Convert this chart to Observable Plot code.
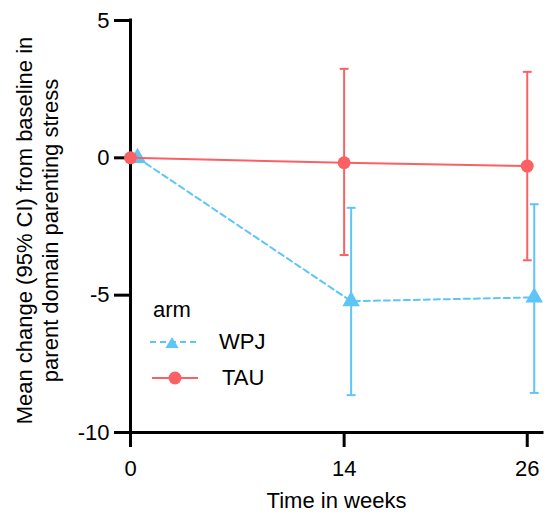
<!DOCTYPE html>
<html>
<head>
<meta charset="utf-8">
<script src="https://cdn.jsdelivr.net/npm/d3@7"></script>
<script src="https://cdn.jsdelivr.net/npm/@observablehq/plot@0.6"></script>
<style>
  html, body { margin: 0; padding: 0; background: #fff; }
  #wrap { position: relative; width: 545px; height: 513px; font-family: "Liberation Sans", Arial, sans-serif; }
  #legend { position: absolute; left: 150px; top: 296px; font-size: 22px; color: #000; }
  #legend .row { display: flex; align-items: center; height: 36px; }
  #legend .title { height: 28px; line-height: 28px; margin-left: 3px; }
</style>
</head>
<body>
<div id="wrap">
  <div id="chart"></div>
  <div id="legend"></div>
</div>
<script>
// ---- data ----
const weeks = [0, 14, 26];
const arms = ["WPJ", "TAU"];
const wpjMean = [0, -5.22, -5.08];
const wpjLow  = [0, -8.64, -8.56];
const wpjHigh = [0, -1.82, -1.69];
const tauMean = [0, -0.18, -0.30];
const tauLow  = [0, -3.54, -3.73];
const tauHigh = [0, 3.24, 3.13];
const yTicks = [5, 0, -5, -10];
const xTicks = [0, 14, 26];
const colors = {WPJ: "#5EC6F7", TAU: "#FA6165"};

const wpj = weeks.map((w, i) => ({week: w, mean: wpjMean[i], lo: wpjLow[i], hi: wpjHigh[i]}));
const tau = weeks.map((w, i) => ({week: w, mean: tauMean[i], lo: tauLow[i], hi: tauHigh[i]}));
const wpjCI = wpj.filter(d => d.lo !== d.hi);
const tauCI = tau.filter(d => d.lo !== d.hi);

// horizontal cap symbol for error bars
const cap = {draw(ctx, size) { const w = Math.sqrt(size) / 2; ctx.moveTo(-w, 0); ctx.lineTo(w, 0); }};

const font = "Liberation Sans, Arial, sans-serif";
const fs = 22;
const dodge = 7;

const chart = Plot.plot({
  width: 545,
  height: 513,
  marginLeft: 130,
  marginRight: 3,
  marginTop: 20,
  marginBottom: 81,
  style: {fontFamily: font, fontSize: fs + "px", background: "#fff", overflow: "visible"},
  x: {domain: [0, 27], axis: null},
  y: {domain: [-10, 5], axis: null},
  marks: [
    // axes (ticks + lines)
    Plot.axisY({ticks: yTicks, tickSize: 16, strokeWidth: 3, tickFormat: () => "", label: null}),
    Plot.axisX({ticks: xTicks, tickSize: 15, strokeWidth: 3, tickFormat: () => "", label: null}),
    Plot.ruleX([0], {stroke: "#000", strokeWidth: 3, strokeLinecap: "square"}),
    Plot.ruleY([-10], {stroke: "#000", strokeWidth: 3, strokeLinecap: "square"}),
    Plot.text(yTicks, {y: d => d, text: d => String(d), frameAnchor: "left", textAnchor: "end", dx: -21, fontSize: fs, fill: "#000"}),
    Plot.text(xTicks, {x: d => d, text: d => String(d), frameAnchor: "bottom", lineAnchor: "middle", dy: 36, fontSize: fs, fill: "#000"}),
    // WPJ
    Plot.ruleX(wpjCI, {x: "week", y1: "lo", y2: "hi", stroke: colors.WPJ, strokeWidth: 2, dx: dodge}),
    Plot.dot(wpjCI, {x: "week", y: "lo", symbol: cap, r: 5, stroke: colors.WPJ, strokeWidth: 2, dx: dodge}),
    Plot.dot(wpjCI, {x: "week", y: "hi", symbol: cap, r: 5, stroke: colors.WPJ, strokeWidth: 2, dx: dodge}),
    Plot.line(wpj, {x: "week", y: "mean", stroke: colors.WPJ, strokeWidth: 2, strokeDasharray: "6,4", dx: dodge}),
    Plot.dot(wpj, {x: "week", y: "mean", symbol: "triangle", r: 6.5, fill: colors.WPJ, stroke: null, dx: dodge}),
    // TAU
    Plot.ruleX(tauCI, {x: "week", y1: "lo", y2: "hi", stroke: colors.TAU, strokeWidth: 2}),
    Plot.dot(tauCI, {x: "week", y: "lo", symbol: cap, r: 5, stroke: colors.TAU, strokeWidth: 2}),
    Plot.dot(tauCI, {x: "week", y: "hi", symbol: cap, r: 5, stroke: colors.TAU, strokeWidth: 2}),
    Plot.line(tau, {x: "week", y: "mean", stroke: colors.TAU, strokeWidth: 2}),
    Plot.dot(tau, {x: "week", y: "mean", r: 6.5, fill: colors.TAU, stroke: null}),
    // axis titles
    Plot.text(["Mean change (95% CI) from baseline in\nparent domain parenting stress"], {
      frameAnchor: "left", textAnchor: "middle", rotate: -90, dx: -94, dy: 4, lineHeight: 1.2, fontSize: fs, fill: "#000"
    }),
    Plot.text(["Time in weeks"], {frameAnchor: "bottom", dy: 68, fontSize: fs, fill: "#000", lineAnchor: "middle"})
  ]
});
document.getElementById("chart").appendChild(chart);

// legend (HTML overlay)
const legend = document.getElementById("legend");
legend.innerHTML = `<div class="title">arm</div>` + arms.map(a => {
  const c = colors[a];
  const isW = a === "WPJ";
  const sym = isW
    ? `<path d="M22,7 L28.5,18 L15.5,18 Z" fill="${c}"/>`
    : `<circle cx="23" cy="12" r="6.5" fill="${c}"/>`;
  return `<div class="row">
    <svg width="64" height="24" style="margin-left:${isW ? 0 : 2}px">
      <line x1="0" x2="46" y1="12" y2="12" stroke="${c}" stroke-width="2" ${isW ? 'stroke-dasharray="6,4"' : ''}/>
      ${sym}
    </svg>
    <span style="margin-left:${isW ? 5 : 6}px">${a}</span>
  </div>`;
}).join("");
</script>
</body>
</html>
